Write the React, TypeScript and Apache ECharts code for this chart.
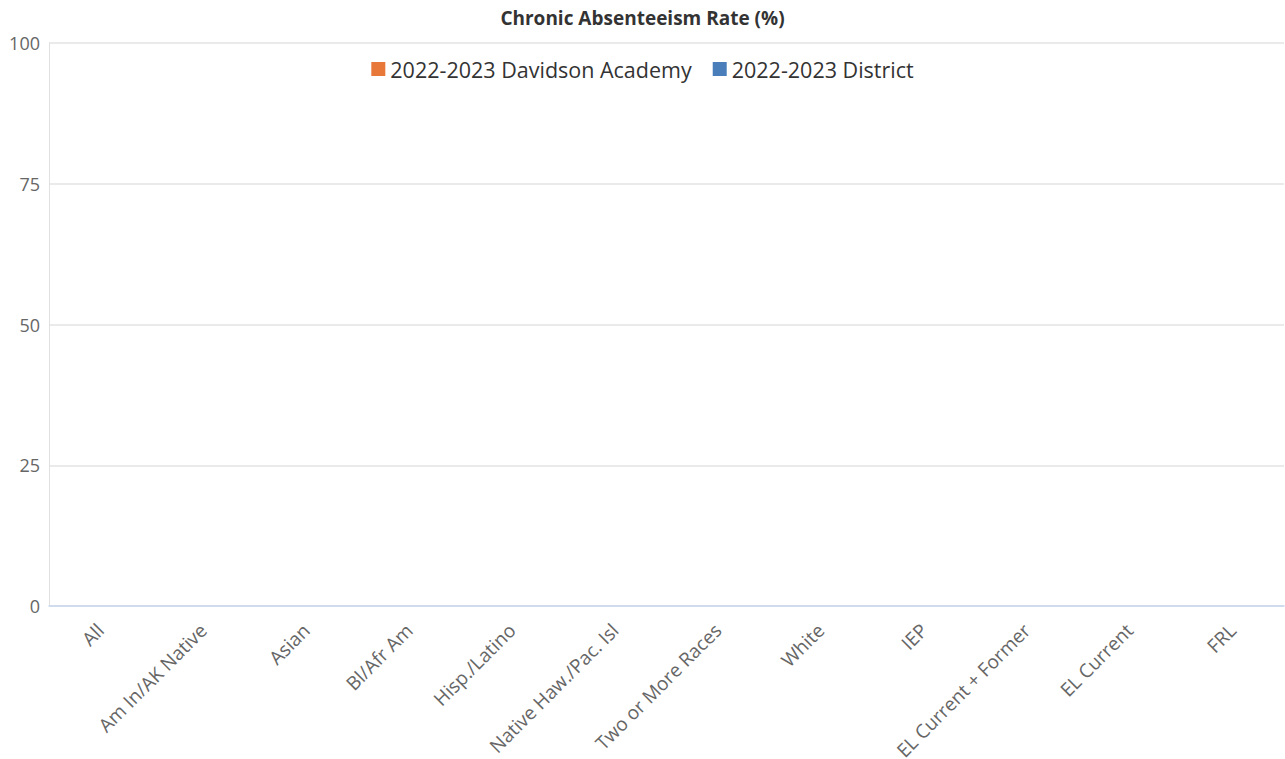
import React, { useEffect, useRef } from "react";
import * as echarts from "echarts";

const categories = [
  "All",
  "Am In/AK Native",
  "Asian",
  "Bl/Afr Am",
  "Hisp./Latino",
  "Native Haw./Pac. Isl",
  "Two or More Races",
  "White",
  "IEP",
  "EL Current + Former",
  "EL Current",
  "FRL",
];

// No values are shown in the reference chart: every cell is empty.
const schoolValues: (number | null)[] = [null, null, null, null, null, null, null, null, null, null, null, null];
const districtValues: (number | null)[] = [null, null, null, null, null, null, null, null, null, null, null, null];

const seriesNames = ["2022-2023 Davidson Academy", "2022-2023 District"];
const seriesColors = ["#e8773a", "#4a7ebb"];
const yTicks = { min: 0, max: 100, interval: 25 };

const FONT = "'Open Sans', 'Noto Sans', sans-serif";

export default function App() {
  const ref = useRef<HTMLDivElement>(null);
  useEffect(() => {
    document.body.style.margin = "0";
    if (!ref.current) return;
    const chart = echarts.init(ref.current, undefined, { renderer: "svg" });
    chart.setOption({
      animation: false,
      textStyle: { fontFamily: FONT },
      title: {
        text: "Chronic Absenteeism Rate (%)",
        left: "center",
        top: 3,
        textStyle: { fontFamily: FONT, fontSize: 19, fontWeight: "bold", color: "#333" },
      },
      legend: {
        top: 53,
        left: "center",
        itemWidth: 14,
        itemHeight: 14,
        itemGap: 21,
        icon: "rect",
        textStyle: { fontFamily: FONT, fontSize: 21.5, color: "#333" },
        data: seriesNames,
      },
      grid: { left: 49, right: 1, top: 43, bottom: 153, containLabel: false, outerBoundsMode: "none" },
      xAxis: {
        type: "category",
        data: categories,
        axisLine: { show: true, lineStyle: { color: "#c9d6ef", width: 1.5 } },
        axisTick: { show: false },
        axisLabel: { rotate: 45, interval: 0, color: "#666", fontSize: 19, fontFamily: FONT, margin: 21 },
      },
      yAxis: {
        type: "value",
        min: yTicks.min,
        max: yTicks.max,
        interval: yTicks.interval,
        axisLine: { show: true, lineStyle: { color: "#e0e0e0" } },
        axisTick: { show: false },
        splitLine: { lineStyle: { color: "#e3e3e3", width: 1.5 } },
        axisLabel: { color: "#666", fontSize: 18, fontFamily: FONT, margin: 9 },
      },
      series: [
        { name: seriesNames[0], type: "bar", data: schoolValues, itemStyle: { color: seriesColors[0] } },
        { name: seriesNames[1], type: "bar", data: districtValues, itemStyle: { color: seriesColors[1] } },
      ],
    });
    return () => chart.dispose();
  }, []);
  return <div ref={ref} style={{ width: 1285, height: 759 }} />;
}
